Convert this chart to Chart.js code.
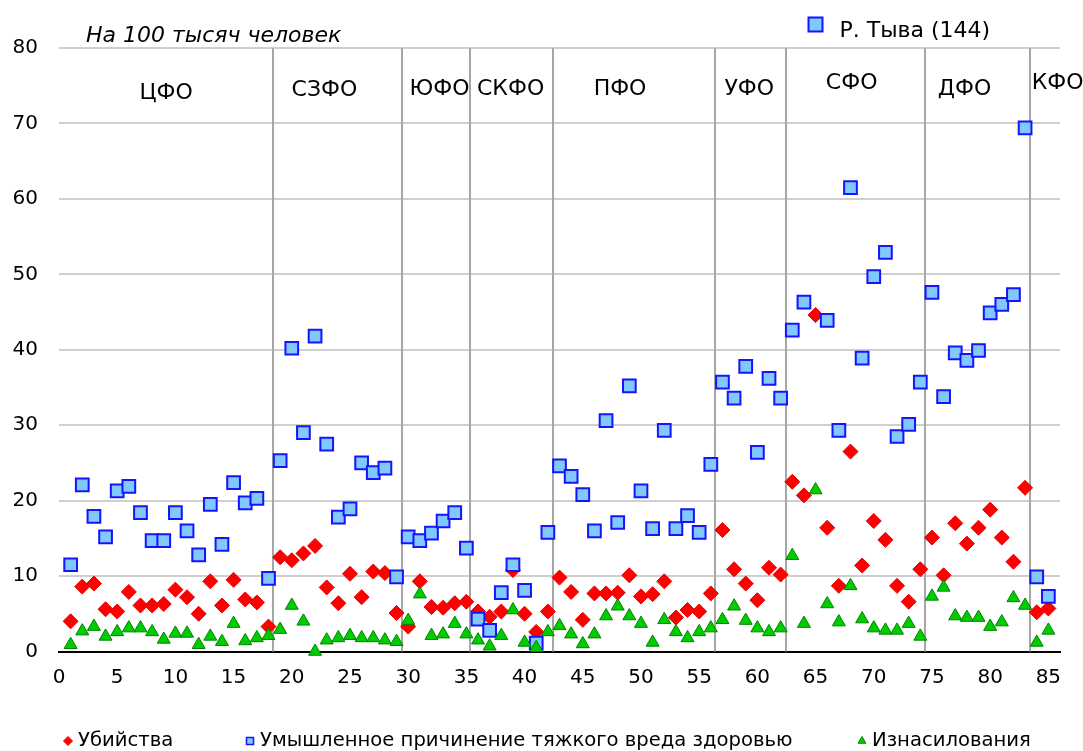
<!DOCTYPE html>
<html><head><meta charset="utf-8">
<script src="https://cdn.jsdelivr.net/npm/chart.js@4.4.1/dist/chart.umd.min.js"></script>
<style>html,body{margin:0;padding:0;background:#fff;}#wrap{width:1083px;height:751px;position:relative;}</style>
</head><body>
<div id="wrap"><canvas id="c" width="1083" height="751"></canvas></div>
<script>
// Region numbers (x values)
const regionNo = [1,2,3,4,5,6,7,8,9,10,11,12,13,14,15,16,17,18,19,20,21,22,23,24,25,26,27,28,29,30,31,32,33,34,35,36,37,38,39,40,41,42,43,44,45,46,47,48,49,50,51,52,53,54,55,56,57,58,59,60,61,62,63,64,65,66,67,68,69,70,71,72,73,74,75,76,77,78,79,80,81,82,83,84,85];

// Убийства (на 100 тыс.)
const murders = [4.0,8.6,9.0,5.6,5.3,7.9,6.1,6.1,6.3,8.2,7.2,5.0,9.3,6.1,9.5,6.9,6.5,3.3,
  12.5,12.1,13.0,14.0,8.5,6.4,10.3,7.2,10.6,10.4,5.1,
  3.3,9.3,5.9,5.8,6.4,6.6,
  5.3,4.6,5.3,10.8,5.0,2.6,5.3,
  9.8,7.9,4.2,7.7,7.7,7.8,10.1,7.3,7.6,9.3,4.5,5.5,5.3,7.7,
  16.1,10.9,9.0,6.8,11.1,10.2,
  22.5,20.7,44.6,16.4,8.7,26.5,11.4,17.3,14.8,8.7,6.6,10.9,
  15.1,10.1,17.0,14.3,16.4,18.8,15.1,11.9,21.7,
  5.2,5.7];

// Умышленное причинение тяжкого вреда здоровью (Р. Тыва = 144, за пределами шкалы)
const grievousHarm = [11.5,22.1,17.9,15.2,21.3,21.9,18.4,14.7,14.7,18.4,16.0,12.8,19.5,14.2,22.4,19.7,20.3,9.7,
  25.3,40.2,29.0,41.8,27.5,17.8,18.9,25.0,23.7,24.3,9.9,
  15.2,14.7,15.7,17.3,18.4,13.7,
  4.3,2.8,7.8,11.5,8.1,1.1,15.8,
  24.6,23.2,20.8,16.0,30.6,17.1,35.2,21.3,16.3,29.3,16.3,18.0,15.8,24.8,
  35.7,33.6,37.8,26.4,36.2,33.6,
  42.6,46.3,144,43.9,29.3,61.5,38.9,49.7,52.9,28.5,30.1,35.7,
  47.6,33.8,39.6,38.6,39.9,44.9,46.0,47.3,69.4,
  9.9,7.3];

// Изнасилования
const rapes = [0.9,2.7,3.3,2.0,2.6,3.1,3.1,2.6,1.6,2.4,2.4,0.9,2.0,1.3,3.7,1.4,1.8,2.1,
  2.9,6.1,4.0,0.0,1.5,1.8,2.1,1.8,1.8,1.5,1.3,
  4.1,7.6,2.1,2.3,3.7,2.3,
  1.5,0.7,2.1,5.5,1.2,0.5,2.6,
  3.4,2.3,1.0,2.3,4.7,6.0,4.7,3.7,1.2,4.2,2.6,1.8,2.6,3.1,
  4.2,6.0,4.1,3.1,2.6,3.1,
  12.7,3.7,21.4,6.3,3.9,8.7,4.3,3.1,2.8,2.8,3.7,2.0,
  7.3,8.5,4.7,4.5,4.5,3.3,3.9,7.1,6.1,
  1.2,2.8];

// Federal districts and boundaries between them (x values)
const districtNames = ['ЦФО','СЗФО','ЮФО','СКФО','ПФО','УФО','СФО','ДФО','КФО'];
const districtBounds = [18.4, 29.5, 35.3, 42.4, 56.4, 62.5, 74.4, 83.4];
const seriesNames = ['Убийства','Умышленное причинение тяжкого вреда здоровью','Изнасилования'];
const unitNote = 'На 100 тысяч человек';
const outlierNote = 'Р. Тыва (144)';

// ---- layout / style (not data) ----
const districtLabelPos = [[9.2,73.2],[22.8,73.7],[32.7,73.8],[38.8,73.8],[48.2,73.8],[59.3,73.8],[68.1,74.5],[77.8,73.8],[85.8,74.5]];
const legendMarkerX = [68, 250, 862];
const FONT = '"DejaVu Sans", sans-serif';

const toPoints = vals => regionNo.map((n, k) => ({x: n, y: vals[k]}));

const overlay = {
  id: 'overlay',
  beforeDatasetsDraw(chart) {
    const {ctx, chartArea, scales: {x}} = chart;
    ctx.save();
    ctx.strokeStyle = '#a6a6a6';
    ctx.lineWidth = 2;
    districtBounds.forEach(b => {
      const px = Math.round(x.getPixelForValue(b));
      ctx.beginPath();
      ctx.moveTo(px, chartArea.top);
      ctx.lineTo(px, chartArea.bottom);
      ctx.stroke();
    });
    ctx.restore();
  },
  afterDraw(chart) {
    const {ctx, chartArea, scales: {x, y}} = chart;
    ctx.save();
    ctx.fillStyle = '#000';
    ctx.textBaseline = 'alphabetic';
    ctx.textAlign = 'center';
    ctx.font = '22px ' + FONT;
    districtNames.forEach((name, k) => {
      const [vx, vy] = districtLabelPos[k];
      ctx.fillText(name, x.getPixelForValue(vx), y.getPixelForValue(vy));
    });
    // unit note
    ctx.textAlign = 'left';
    ctx.font = 'italic 22px ' + FONT;
    ctx.fillText(unitNote, chartArea.left + 27, chartArea.top - 6);
    // outlier note with marker
    const mx = 815.5, my = 24.5, half = 7;
    ctx.fillStyle = 'rgb(128,200,255)';
    ctx.fillRect(mx - half, my - half, half * 2, half * 2);
    ctx.strokeStyle = 'rgb(20,20,255)';
    ctx.lineWidth = 2;
    ctx.strokeRect(mx - half, my - half, half * 2, half * 2);
    ctx.fillStyle = '#000';
    ctx.font = '22px ' + FONT;
    ctx.fillText(outlierNote, 839.5, 36.5);

    // legend (series names with their markers, styles from datasets)
    ctx.font = '19.6px ' + FONT;
    ctx.textBaseline = 'middle';
    const ly = 741;
    chart.data.datasets.forEach((ds, k) => {
      const lx = legendMarkerX[k];
      ctx.save();
      ctx.fillStyle = ds.backgroundColor;
      ctx.strokeStyle = ds.borderColor;
      ctx.lineWidth = ds.borderWidth > 1 ? 1.5 : 1;
      ctx.beginPath();
      const r = 4.5;
      if (ds.pointStyle === 'rectRot') {
        ctx.moveTo(lx - r, ly); ctx.lineTo(lx, ly - r); ctx.lineTo(lx + r, ly); ctx.lineTo(lx, ly + r);
      } else if (ds.pointStyle === 'rect') {
        ctx.rect(lx - 3.5, ly - 3.5, 7, 7);
      } else {
        ctx.moveTo(lx, ly - r); ctx.lineTo(lx + r * 0.87, ly + r / 2); ctx.lineTo(lx - r * 0.87, ly + r / 2);
      }
      ctx.closePath();
      ctx.fill();
      ctx.stroke();
      ctx.restore();
      ctx.fillStyle = '#000';
      ctx.fillText(seriesNames[k], lx + 10, ly);
    });
    ctx.restore();
  }
};

new Chart(document.getElementById('c'), {
  type: 'scatter',
  data: {
    datasets: [
      {label: seriesNames[0], data: toPoints(murders), pointStyle: 'rectRot', pointRadius: 7.5, pointHoverRadius: 7.5,
       backgroundColor: 'rgb(255,0,0)', borderColor: 'rgb(230,0,0)', borderWidth: 1, order: 3, clip: false},
      {label: seriesNames[1], data: toPoints(grievousHarm), pointStyle: 'rect', pointRadius: 9, pointHoverRadius: 9,
       backgroundColor: 'rgb(128,200,255)', borderColor: 'rgb(20,20,255)', borderWidth: 2, order: 2, clip: false},
      {label: seriesNames[2], data: toPoints(rapes), pointStyle: 'triangle', pointRadius: 7.5, pointHoverRadius: 7.5,
       backgroundColor: 'rgb(0,205,0)', borderColor: 'rgb(0,130,0)', borderWidth: 1, order: 1, clip: false}
    ]
  },
  options: {
    responsive: false,
    animation: false,
    layout: {padding: {left: 0, right: 23, top: 48, bottom: 0}},
    plugins: {
      tooltip: {enabled: false},
      legend: {display: false}
    },
    scales: {
      x: {
        type: 'linear', min: 0, max: 86,
        ticks: {stepSize: 5, includeBounds: false, autoSkip: false, maxRotation: 0, padding: 14, color: '#000', font: {family: FONT, size: 20}},
        grid: {display: false, drawTicks: false},
        border: {display: true, color: '#000', width: 2},
        afterFit: s => { s.height = 99.5; }
      },
      y: {
        type: 'linear', min: 0, max: 80,
        ticks: {stepSize: 10, autoSkip: false, padding: 21, color: '#000', font: {family: FONT, size: 20}},
        grid: {color: '#cfcfcf', lineWidth: 2, drawTicks: false},
        border: {display: false},
        afterFit: s => { s.width = 59; }
      }
    }
  },
  plugins: [overlay]
});
</script>
</body></html>
